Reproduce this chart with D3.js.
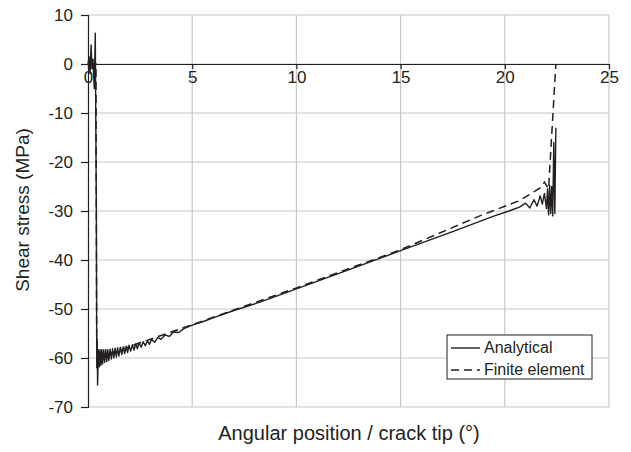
<!DOCTYPE html>
<html><head><meta charset="utf-8">
<script src="https://cdn.jsdelivr.net/npm/d3@7/dist/d3.min.js"></script>
<style>body{margin:0;background:#fff}svg{display:block}text{font-family:"Liberation Sans",Arial,sans-serif;fill:#231f20}</style>
</head><body><svg id="c" width="631" height="452"></svg>
<script>
const xTicks=[0,5,10,15,20,25];
const yTicks=[10,0,-10,-20,-30,-40,-50,-60,-70];
const xLabel="Angular position / crack tip (°)";
const yLabel="Shear stress (MPa)";
const seriesNames=["Analytical","Finite element"];
// Analytical solution (x in degrees, y in MPa)
const analyticalX=[0,0.05,0.1,0.15,0.19,0.24,0.3,0.35,0.4,0.42,0.44,0.46,
 0.50,0.54,0.58,0.62,0.66,0.70,0.75,0.80,0.85,0.90,0.95,1.00,1.06,1.12,1.18,1.24,1.30,1.36,1.42,1.48,1.55,1.62,1.69,1.76,1.83,1.90,1.97,2.05,2.13,2.21,2.29,2.37,2.45,2.55,2.65,2.75,2.85,2.95,3.05,3.2,3.35,3.5,3.7,3.9,4.1,4.35,4.6,5.0,
 5.5,6.0,7.0,8.25,10,12.5,15,17.5,18.8,19.5,20.2,20.7,21.0,21.2,21.4,21.55,21.7,21.8,21.9,22.0,22.05,22.1,22.15,22.2,22.25,22.3,22.35,22.4,22.45];
const analyticalY=[0,1.5,-2,3.9,-1,1,-5,6.3,-30,-62,-56,-65.5,
 -58.3,-61.8,-58.3,-61.5,-58.3,-61.2,-58.3,-60.9,-58.3,-60.7,-58.3,-60.5,-58.2,-60.2,-58.1,-60.0,-58.0,-59.8,-57.9,-59.6,-57.8,-59.3,-57.7,-59.1,-57.6,-58.9,-57.4,-58.6,-57.3,-58.4,-57.1,-58.1,-56.9,-57.8,-56.7,-57.5,-56.5,-57.2,-56.2,-56.8,-55.8,-56.2,-55.3,-55.6,-54.7,-54.8,-54.0,-53.3,
 -52.6,-51.8,-50.3,-48.6,-45.9,-42.0,-38.1,-34.2,-32.1,-31.0,-30.0,-29.2,-28.4,-29.4,-27.7,-29.0,-26.9,-28.6,-26.4,-29.5,-25.5,-30.8,-24.8,-30.5,-25,-31,-16,-30.5,-13];
// Finite element solution
const feX=[0,0.38,0.42,0.6,1,2.5,5,10,15,18.8,20.7,21.7,21.9,22.1,22.45];
const feY=[0,0,-59.5,-59.6,-59.2,-56.9,-53.2,-45.7,-37.9,-31.0,-27.9,-25.3,-24.1,-25.5,0];

const svg=d3.select("#c");
const x=d3.scaleLinear().domain([0,25]).range([88,609]);
const y=d3.scaleLinear().domain([-70,10]).range([407,15]);
const grid="#c8c8c8";
const fmt=d=>String(d);
// gridlines
svg.append("g").selectAll("line").data(yTicks).join("line")
 .attr("x1",x(0)).attr("x2",x(25)).attr("y1",d=>y(d)).attr("y2",d=>y(d))
 .attr("stroke",grid).attr("stroke-width",1.2);
svg.append("g").selectAll("line").data(xTicks.slice(1)).join("line")
 .attr("x1",d=>x(d)).attr("x2",d=>x(d)).attr("y1",y(10)).attr("y2",y(-70))
 .attr("stroke",grid).attr("stroke-width",1.2);
// y axis
const ya=svg.append("g").attr("transform",`translate(${x(0)},0)`)
 .call(d3.axisLeft(y).tickValues(yTicks).tickSize(7).tickPadding(8).tickFormat(fmt));
ya.select(".domain").attr("stroke","#231f20").attr("stroke-width",1.2);
ya.selectAll(".tick line").attr("stroke","#231f20").attr("stroke-width",1.2);
ya.selectAll("text").style("font-size","17px").attr("fill","#231f20");
// x axis at y=0
const xa=svg.append("g").attr("transform",`translate(0,${y(0)})`)
 .call(d3.axisBottom(x).tickValues(xTicks).tickSizeInner(5).tickSizeOuter(0).tickPadding(2).tickFormat(fmt));
xa.select(".domain").attr("stroke","#231f20").attr("stroke-width",1.2);
xa.selectAll(".tick line").attr("stroke","#231f20").attr("stroke-width",1.2);
xa.selectAll("text").style("font-size","17px").attr("fill","#231f20");
// lines
const line=d3.line().x(d=>x(d[0])).y(d=>y(d[1]));
const fe=feX.map((v,i)=>[v,feY[i]]);
const an=analyticalX.map((v,i)=>[v,analyticalY[i]]);
svg.append("path").datum(fe).attr("d",line).attr("fill","none").attr("stroke","#231f20").attr("stroke-width",1.5).attr("stroke-dasharray","8,5");
svg.append("path").datum(an).attr("d",line).attr("fill","none").attr("stroke","#231f20").attr("stroke-width",1.4).attr("stroke-linejoin","round");
// titles
svg.append("text").attr("x",349).attr("y",440).attr("text-anchor","middle").style("font-size","20px").text(xLabel);
svg.append("text").attr("transform","translate(29,210) rotate(-90)").attr("text-anchor","middle").style("font-size","19px").text(yLabel);
// legend
const lg=svg.append("g");
lg.append("rect").attr("x",447).attr("y",335).attr("width",145).attr("height",44).attr("fill","#fff").attr("stroke","#231f20").attr("stroke-width",1);
lg.append("line").attr("x1",451).attr("x2",480).attr("y1",348).attr("y2",348).attr("stroke","#231f20").attr("stroke-width",1.4);
lg.append("line").attr("x1",451).attr("x2",480).attr("y1",370).attr("y2",370).attr("stroke","#231f20").attr("stroke-width",1.5).attr("stroke-dasharray","8,5");
lg.append("text").attr("x",484).attr("y",353).style("font-size","16px").text(seriesNames[0]);
lg.append("text").attr("x",484).attr("y",375).style("font-size","16px").text(seriesNames[1]);
</script></body></html>
